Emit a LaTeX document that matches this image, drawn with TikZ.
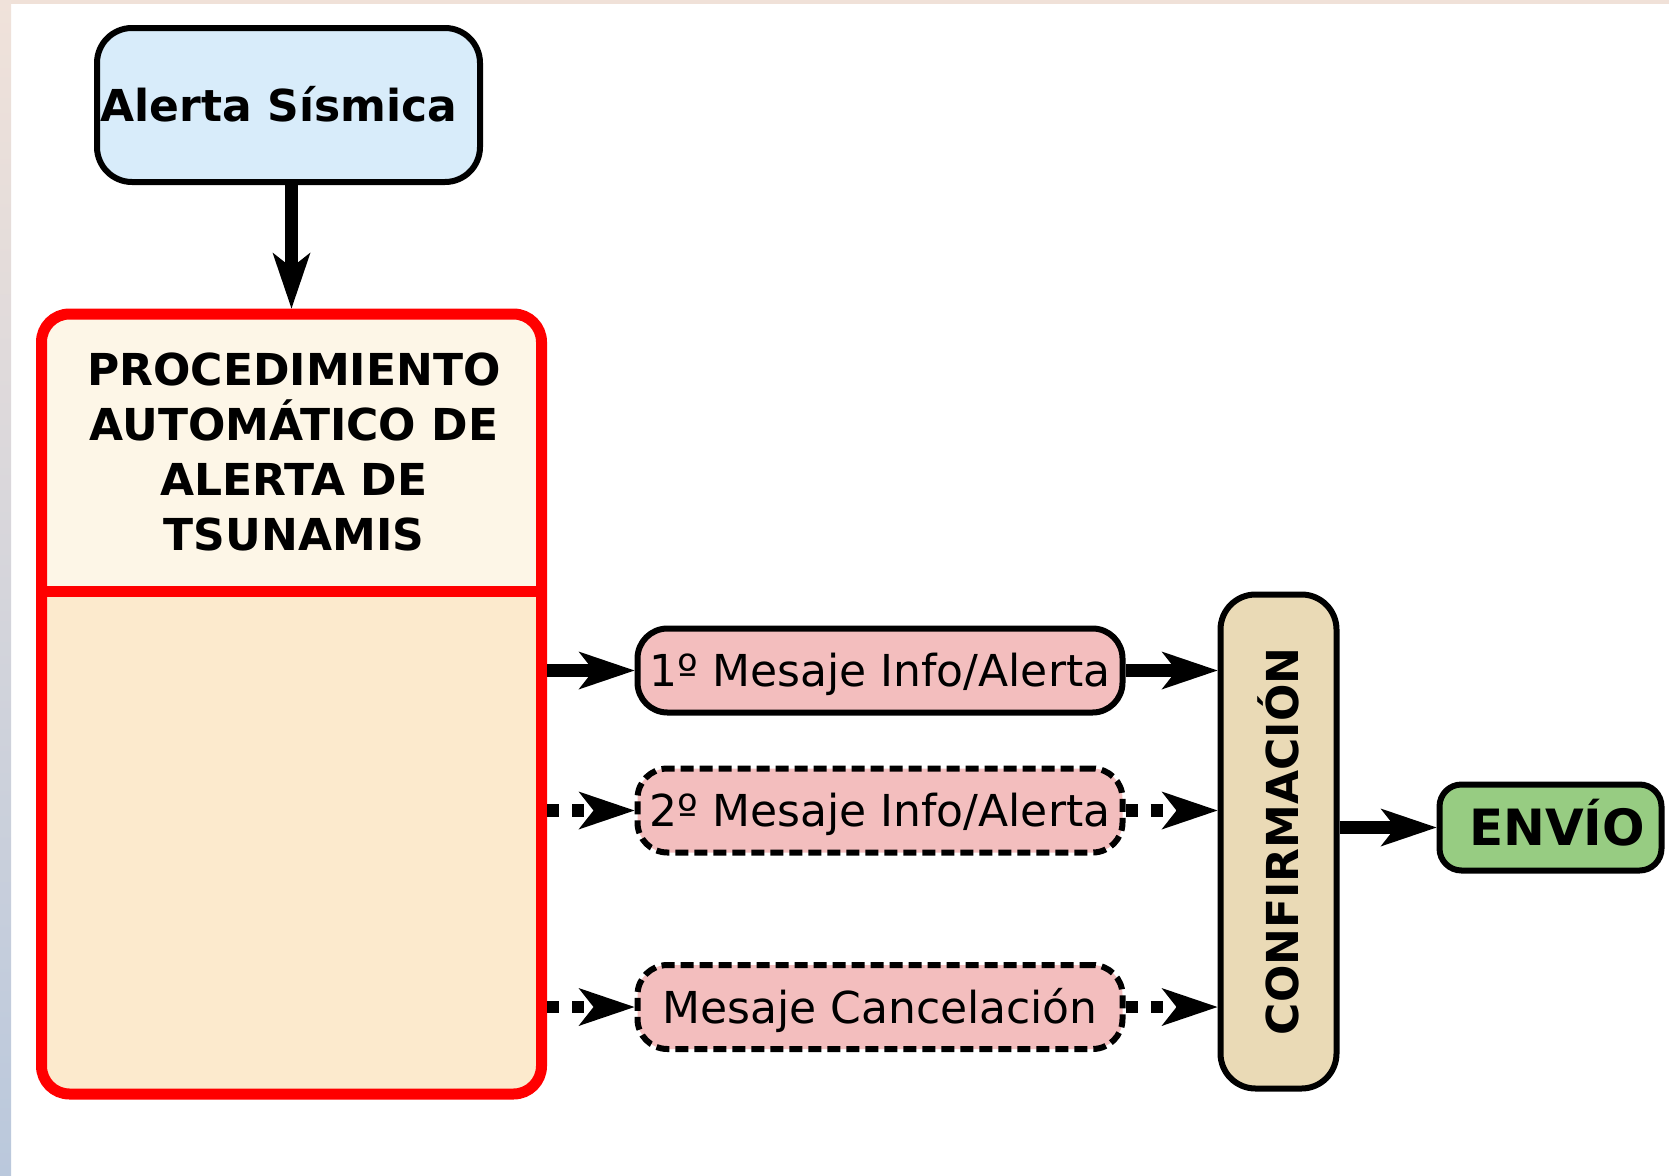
\documentclass[tikz,border=0pt]{standalone}
\usepackage{fontspec}
\setmainfont{DejaVu Sans}
\usetikzlibrary{arrows.meta}

\definecolor{alertblue}{RGB}{216,236,250}
\definecolor{proctop}{RGB}{253,246,231}
\definecolor{procbottom}{RGB}{252,234,205}
\definecolor{msgpink}{RGB}{243,190,190}
\definecolor{confsand}{RGB}{234,218,182}
\definecolor{sendgreen}{RGB}{151,204,130}
\definecolor{edgetop}{RGB}{240,226,218}
\definecolor{edgemid}{RGB}{214,190,182}
\definecolor{edgebottom}{RGB}{186,200,220}
\definecolor{topband}{RGB}{240,225,216}

\tikzset{
  box/.style={draw=black, line width=6pt, inner sep=0pt,
    text height=32pt, text depth=0pt},
  txt/.style={font=\fontsize{44pt}{55pt}\selectfont},
  btxt/.style={font=\fontsize{44pt}{55pt}\selectfont\bfseries},
  alertbox/.style={box, btxt, fill=alertblue, rounded corners=35pt,
    minimum width=383pt, minimum height=154pt},
  procbox/.style={fill=procbottom, outer sep=0pt, inner sep=0pt,
    rounded corners=28pt, minimum width=500pt, minimum height=780pt},
  procline/.style={draw=red, line width=11pt},
  msgbox/.style={box, txt, fill=msgpink, rounded corners=30pt,
    minimum width=485pt, minimum height=84pt},
  optbox/.style={msgbox, dash pattern=on 13pt off 6pt},
  confbox/.style={box, fill=confsand, rounded corners=35pt,
    minimum width=116pt, minimum height=494pt},
  sendbox/.style={box, font=\fontsize{50pt}{60pt}\selectfont\bfseries,
    text height=36.5pt, fill=sendgreen, rounded corners=22pt,
    minimum width=222pt, minimum height=86pt},
  link/.style={line width=12.5pt,
    -{Stealth[length=56pt, width=38pt, inset=15pt, line width=0pt]}},
  optlink/.style={link, dash pattern=on 12pt off 13pt},
}

\begin{document}
\begin{tikzpicture}[x=1pt, y=-1pt]
  % page and its tinted edges
  \useasboundingbox (0,0) rectangle (1669,1175);
  \fill[white] (0,0) rectangle (1669,1175);
  \shade[top color=edgetop, middle color=edgemid, bottom color=edgebottom]
    (0,0) rectangle (11,1175);
  \fill[topband] (11,0) rectangle (1669,4);

  % seismic alert
  \node[alertbox] (alert) at (288.5,105) {Alerta Sísmica\hspace*{19pt}};

  % automatic tsunami alert procedure: two-part panel
  \node[procbox] (proc) at (291.5,704) {};
  \begin{scope}
    \clip[rounded corners=28pt] (proc.north west) rectangle (proc.south east);
    \fill[proctop] (proc.north west) rectangle (proc.east |- 0,591);
  \end{scope}
  \draw[procline] (proc.west |- 0,591) -- (proc.east |- 0,591);
  \draw[procline, rounded corners=28pt] (proc.north west) rectangle (proc.south east);
  \node[btxt, align=center, inner sep=0pt] (title) at (294,452)
    {PROCEDIMIENTO\\AUTOMÁTICO DE\\ALERTA DE\\TSUNAMIS};

  % messages
  \node[msgbox] (m1) at (880,670.5) {1º Mesaje Info/Alerta};
  \node[optbox] (m2) at (880,810.5) {2º Mesaje Info/Alerta};
  \node[optbox] (m3) at (880,1007) {Mesaje Cancelación};

  % confirmation and sending
  \node[confbox] (conf) at (1278.5,841.5) {};
  \node[btxt, rotate=90, inner sep=0pt] (conftext) at (conf.center) {CONFIRMACIÓN};
  \node[sendbox] (send) at (1550.5,827.5) {ENVÍO\hspace*{-13pt}};

  % connectors
  \draw[link, shorten >=5.5pt] (alert.south -| proc.north) -- (proc.north);
  \draw[link, shorten <=5.5pt] (proc.east |- m1) -- (m1.west);
  \draw[optlink, shorten <=5.5pt] (proc.east |- m2) -- (m2.west);
  \draw[optlink, shorten <=5.5pt] (proc.east |- m3) -- (m3.west);
  \draw[link] (m1.east) -- (m1.east -| conf.west);
  \draw[optlink] (m2.east) -- (m2.east -| conf.west);
  \draw[optlink] (m3.east) -- (m3.east -| conf.west);
  \draw[link] (conf.east |- send.west) -- (send.west);
\end{tikzpicture}
\end{document}
